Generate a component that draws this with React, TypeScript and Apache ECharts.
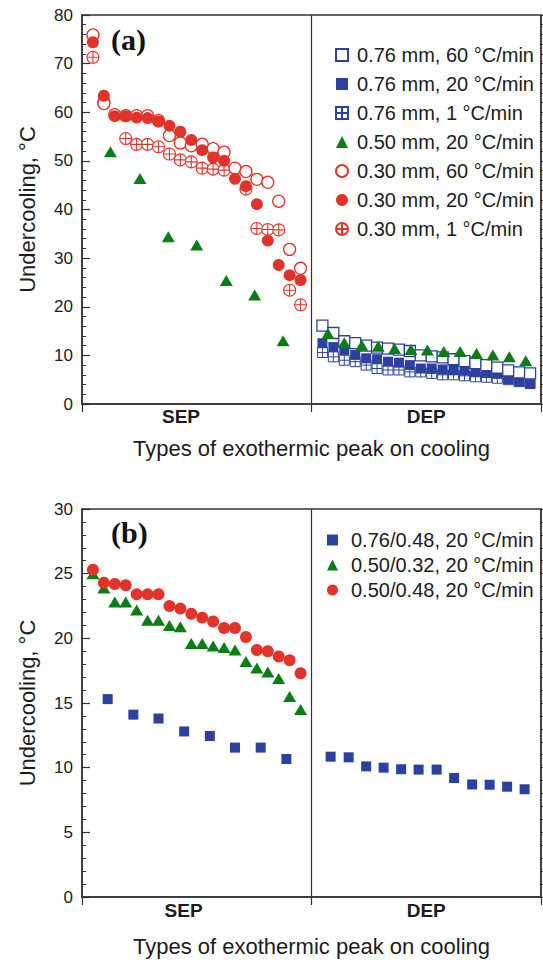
import React, { useEffect, useRef } from "react";
import * as echarts from "echarts";

// ---------- Panel (a) data ----------
const peakPosA = [1, 2, 3, 4, 5, 6, 7, 8, 9, 10, 11, 12, 13, 14, 15, 16, 17, 18, 19, 20];
const depPosA = [22, 23, 24, 25, 26, 27, 28, 29, 30, 31, 32, 33, 34, 35, 36, 37, 38, 39, 40, 41];

const a076_60 = [16.1, 14.6, 12.9, 12.5, 12.0, 11.6, 11.4, 11.2, 10.9, 10.0, 9.8, 9.6, 9.2, 8.8, 8.4, 8.0, 7.5, 6.9, 6.5, 6.3];
const a076_20 = [12.5, 11.7, 11.1, 10.1, 9.4, 9.2, 8.7, 8.5, 8.0, 7.3, 7.3, 7.1, 7.0, 6.9, 6.6, 6.4, 6.3, 5.1, 4.6, 4.1];
const a076_1 = [10.6, 9.7, 9.0, 8.7, 8.0, 7.3, 7.0, 7.0, 6.6, 6.6, 6.3, 6.0, 6.0, 5.8, 5.6, 5.5, 5.3, 5.0, 4.6, 4.3];

const a050_20_x = [2.6, 5.3, 7.9, 10.5, 13.2, 15.8, 18.4, 22.5, 24.0, 25.6, 27.1, 28.6, 30.1, 31.6, 33.1, 34.6, 36.1, 37.6, 39.1, 40.6];
const a050_20 = [51.9, 46.4, 34.4, 32.7, 25.4, 22.4, 13.0, 14.5, 12.6, 12.1, 11.9, 11.4, 11.2, 11.1, 10.8, 10.8, 10.4, 10.1, 9.7, 8.9];

const a030_60 = [75.9, 61.8, 59.5, 59.3, 59.3, 59.3, 58.3, 55.2, 53.7, 53.1, 53.4, 52.5, 51.8, 48.5, 47.8, 46.2, 45.6, 41.7, 31.8, 27.9];
const a030_20 = [74.4, 63.4, 59.2, 59.2, 58.9, 58.8, 58.1, 57.2, 56.0, 54.3, 52.2, 50.7, 50.0, 46.3, 44.8, 41.1, 33.6, 28.6, 26.5, 25.5];
const a030_1_x = [1, 2, 4, 5, 6, 7, 8, 9, 10, 11, 12, 13, 15, 16, 17, 18, 19, 20];
const a030_1 = [71.3, 62.2, 54.6, 53.4, 53.4, 52.9, 51.4, 50.2, 49.8, 48.5, 48.3, 48.1, 44.2, 36.1, 35.9, 35.8, 23.4, 20.4];

// ---------- Panel (b) data ----------
const peakPosB = [1, 2, 3, 4, 5, 6, 7, 8, 9, 10, 11, 12, 13, 14, 15, 16, 17, 18, 19, 20];
const b076_x = [2.35, 4.7, 7.0, 9.35, 11.7, 14.0, 16.35, 18.7, 22.75, 24.4, 26.0, 27.6, 29.2, 30.8, 32.45, 34.05, 35.7, 37.3, 38.9, 40.5];
const b076 = [15.3, 14.1, 13.8, 12.8, 12.45, 11.55, 11.55, 10.67, 10.85, 10.8, 10.1, 10.0, 9.88, 9.85, 9.85, 9.2, 8.7, 8.68, 8.53, 8.33];
const b050_032 = [25.0, 23.9, 22.8, 22.8, 22.2, 21.4, 21.4, 21.0, 20.9, 19.6, 19.6, 19.4, 19.3, 19.1, 18.2, 17.7, 17.4, 16.9, 15.5, 14.5];
const b050_048 = [25.3, 24.3, 24.2, 24.1, 23.4, 23.4, 23.4, 22.5, 22.3, 21.9, 21.6, 21.3, 20.8, 20.8, 20.1, 19.1, 19.0, 18.6, 18.3, 17.3];

const namesA = [
  "0.76 mm, 60 °C/min",
  "0.76 mm, 20 °C/min",
  "0.76 mm, 1 °C/min",
  "0.50 mm, 20 °C/min",
  "0.30 mm, 60 °C/min",
  "0.30 mm, 20 °C/min",
  "0.30 mm, 1 °C/min",
];
const namesB = ["0.76/0.48, 20 °C/min", "0.50/0.32, 20 °C/min", "0.50/0.48, 20 °C/min"];
const peakTypes = ["SEP", "DEP"];
const xTitle = "Types of exothermic peak on cooling";
const yTitle = "Undercooling, °C";

const BLUE = "#2C40A0";
const GREEN = "#0A7D14";
const RED = "#E1332A";
const INK = "#1c1c1c";
const FONT = "'Liberation Sans', Arial, Helvetica, sans-serif";

const CROSS_SQ = "path://M0,0L10,0L10,10L0,10Z M5,0L5,10 M0,5L10,5";
const CROSS_CI = "path://M0,5A5,5,0,1,1,10,5A5,5,0,1,1,0,5Z M5,0L5,10 M0,5L10,5";

const zip = (xs: number[], ys: number[]) => xs.map((x, i) => [x, ys[i]]);

const divider = {
  silent: true,
  symbol: ["none", "none"],
  label: { show: false },
  lineStyle: { color: "#333", width: 1.2, type: "solid", opacity: 1 },
  data: [{ xAxis: 21 }],
};

function makeX(gridIndex: number, labelX: number, gap: number, margin: number) {
  return {
    type: "value",
    gridIndex,
    min: 0,
    max: 42,
    splitLine: { show: false },
    axisLine: { show: true, onZero: false, lineStyle: { color: "#333", width: 1.5 } },
    axisTick: { show: true, inside: false, length: 8, customValues: [0, 21, 42], lineStyle: { color: "#333", width: 1.2 } },
    axisLabel: {
      customValues: [labelX, 31.5],
      formatter: (v: number) => (v < 21 ? peakTypes[0] : peakTypes[1]),
      fontFamily: FONT,
      fontWeight: "bold",
      fontSize: 19,
      color: INK,
      margin,
    },
    name: xTitle,
    nameLocation: "middle",
    nameGap: gap,
    nameTextStyle: { fontFamily: FONT, fontSize: 22, color: INK },
  };
}

function makeY(gridIndex: number, max: number, interval: number, right: boolean) {
  return {
    type: "value",
    gridIndex,
    min: 0,
    max,
    interval,
    position: right ? "right" : "left",
    splitLine: { show: false },
    axisLine: { show: true, lineStyle: { color: "#333", width: 1.5 } },
    axisTick: { show: true, inside: !right, length: right ? 4 : 8, lineStyle: { color: "#333", width: 1.2 } },
    minorTick: { show: true, splitNumber: 5, length: 4, lineStyle: { color: "#333", width: 1 } },
    axisLabel: { show: !right, fontFamily: FONT, fontSize: 17, color: INK, margin: 9 },
    name: right ? "" : yTitle,
    nameLocation: "middle",
    nameGap: 44,
    nameRotate: 90,
    nameTextStyle: { fontFamily: FONT, fontSize: 22, color: INK },
  };
}

const hollow = (c: string, w: number) => ({ color: "#fff", borderColor: c, borderWidth: w, opacity: 1 });
const solid = (c: string) => ({ color: c, opacity: 1 });

export default function App() {
  const ref = useRef<HTMLDivElement>(null);
  useEffect(() => {
    document.body.style.margin = "0";
    if (!ref.current) return;
    const chart = echarts.init(ref.current, undefined, { renderer: "svg" });
    const base = { type: "scatter", emphasis: { disabled: true } };
    const option: any = {
      animation: false,
      backgroundColor: "#fff",
      grid: [
        { left: 82, right: 2, top: 15, height: 389, show: true, borderColor: "#333", borderWidth: 1.5 },
        { left: 82, right: 2, top: 509, height: 388, show: true, borderColor: "#333", borderWidth: 1.5 },
      ],
      xAxis: [makeX(0, 9.06, 33, 3), makeX(1, 9.3, 38, 4)],
      yAxis: [makeY(0, 80, 10, false), makeY(0, 80, 10, true), makeY(1, 30, 5, false), makeY(1, 30, 5, true)],
      legend: [
        {
          data: namesA,
          orient: "vertical",
          left: 330,
          top: 40,
          itemWidth: 12,
          itemHeight: 12,
          itemGap: 9,
          selectedMode: false,
          textStyle: { fontFamily: FONT, fontSize: 20, color: INK, lineHeight: 20, padding: [0, 0, 0, 4] },
        },
        {
          data: namesB,
          orient: "vertical",
          left: 322,
          top: 525,
          itemWidth: 11,
          itemHeight: 11,
          itemGap: 5,
          selectedMode: false,
          textStyle: { fontFamily: FONT, fontSize: 20, color: INK, lineHeight: 20, padding: [0, 0, 0, 8] },
        },
      ],
      graphic: [
        { type: "text", left: 111, top: 24, style: { text: "(a)", font: "bold 30px 'Liberation Serif', 'Times New Roman', serif", fill: "#111" } },
        { type: "text", left: 111, top: 517, style: { text: "(b)", font: "bold 30px 'Liberation Serif', 'Times New Roman', serif", fill: "#111" } },
      ],
      series: [
        // panel (a)
        { ...base, name: namesA[0], xAxisIndex: 0, yAxisIndex: 0, z: 3, symbol: "rect", symbolSize: 11, itemStyle: hollow(BLUE, 1.3), data: zip(depPosA, a076_60), markLine: divider },
        { ...base, name: namesA[1], xAxisIndex: 0, yAxisIndex: 0, z: 2, symbol: "rect", symbolSize: 10, itemStyle: solid(BLUE), data: zip(depPosA, a076_20) },
        { ...base, name: namesA[2], xAxisIndex: 0, yAxisIndex: 0, z: 1, symbol: CROSS_SQ, symbolSize: 10, itemStyle: hollow(BLUE, 1), data: zip(depPosA, a076_1) },
        { ...base, name: namesA[3], xAxisIndex: 0, yAxisIndex: 0, z: 4, symbol: "triangle", symbolSize: [13, 11], itemStyle: solid(GREEN), data: zip(a050_20_x, a050_20) },
        { ...base, name: namesA[4], xAxisIndex: 0, yAxisIndex: 0, z: 2, symbol: "circle", symbolSize: 12, itemStyle: hollow(RED, 1.3), data: zip(peakPosA, a030_60) },
        { ...base, name: namesA[5], xAxisIndex: 0, yAxisIndex: 0, z: 3, symbol: "circle", symbolSize: 12, itemStyle: solid(RED), data: zip(peakPosA, a030_20) },
        { ...base, name: namesA[6], xAxisIndex: 0, yAxisIndex: 0, z: 1, symbol: CROSS_CI, symbolSize: 12, itemStyle: hollow(RED, 1.1), data: zip(a030_1_x, a030_1) },
        // panel (b)
        { ...base, name: namesB[0], xAxisIndex: 1, yAxisIndex: 2, z: 2, symbol: "rect", symbolSize: 10, itemStyle: solid(BLUE), data: zip(b076_x, b076), markLine: divider },
        { ...base, name: namesB[1], xAxisIndex: 1, yAxisIndex: 2, z: 2, symbol: "triangle", symbolSize: [13, 11], itemStyle: solid(GREEN), data: zip(peakPosB, b050_032) },
        { ...base, name: namesB[2], xAxisIndex: 1, yAxisIndex: 2, z: 3, symbol: "circle", symbolSize: 12, itemStyle: solid(RED), data: zip(peakPosB, b050_048) },
      ],
    };
    chart.setOption(option);
    return () => chart.dispose();
  }, []);
  return <div ref={ref} style={{ width: 543, height: 960 }} />;
}
